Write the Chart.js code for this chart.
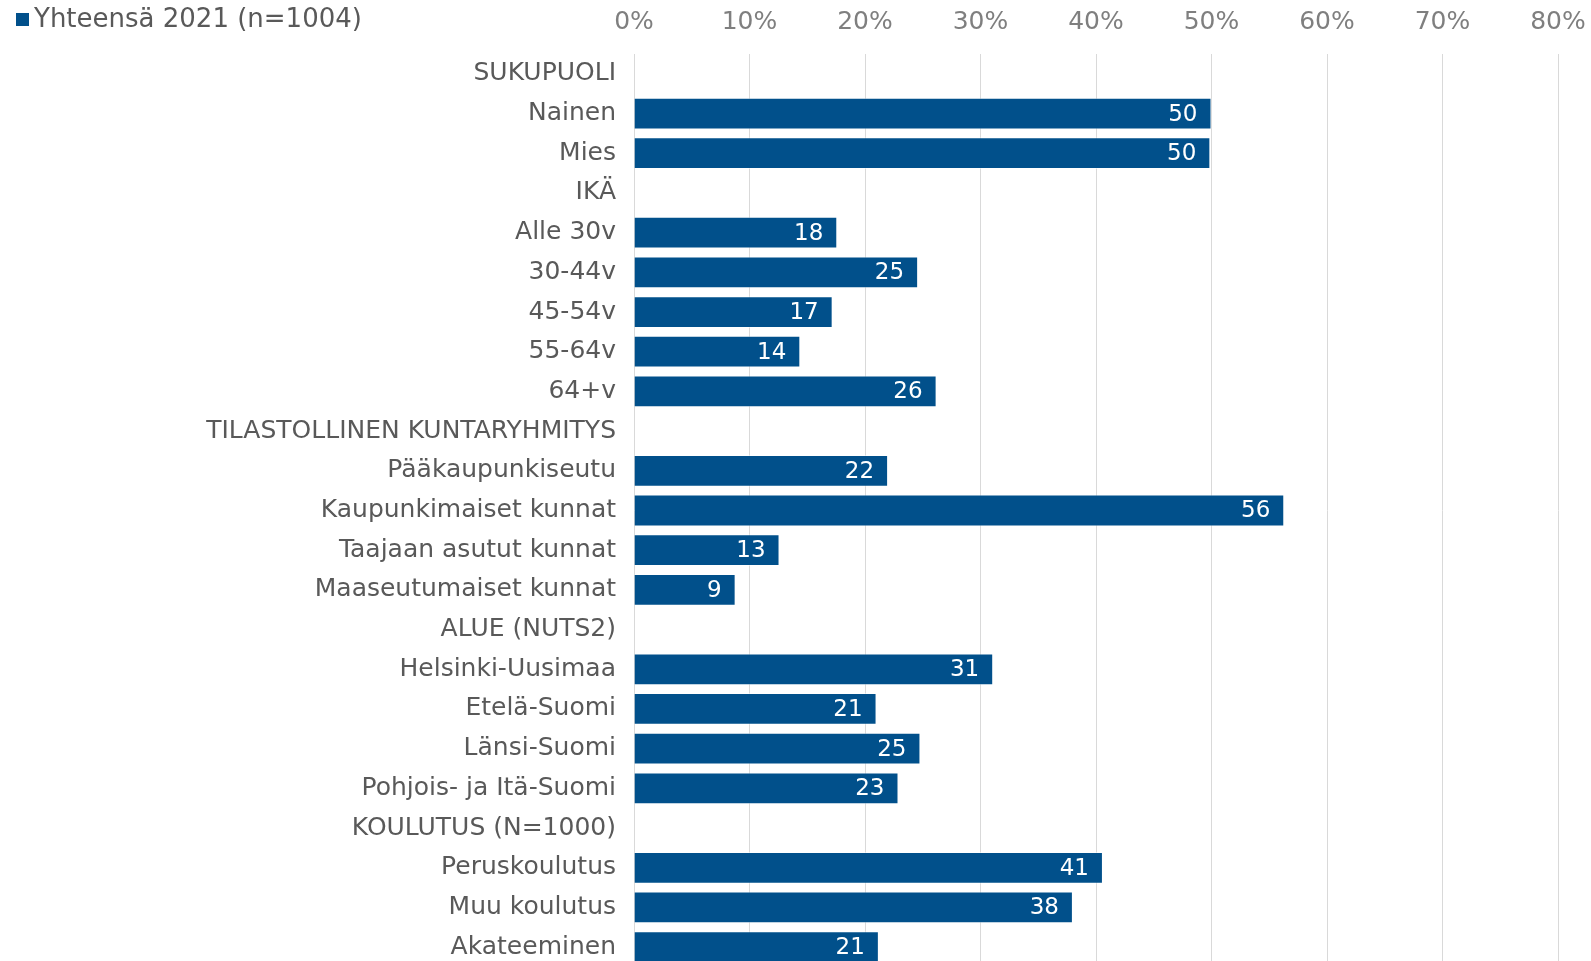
<!DOCTYPE html>
<html>
<head>
<meta charset="utf-8">
<script src="https://cdn.jsdelivr.net/npm/chart.js@4.4.0/dist/chart.umd.min.js"></script>
<style>
    html, body { margin: 0; padding: 0; overflow: hidden; background: #ffffff; }
    canvas { display: block; }
</style>
</head>
<body>
<canvas id="groupChart" width="1591" height="975"></canvas>
<script>
// Group rows (header rows have no value)
const categories = [
    'SUKUPUOLI', 'Nainen', 'Mies',
    'IKÄ', 'Alle 30v', '30-44v', '45-54v', '55-64v', '64+v',
    'TILASTOLLINEN KUNTARYHMITYS', 'Pääkaupunkiseutu', 'Kaupunkimaiset kunnat',
    'Taajaan asutut kunnat', 'Maaseutumaiset kunnat',
    'ALUE (NUTS2)', 'Helsinki-Uusimaa', 'Etelä-Suomi', 'Länsi-Suomi', 'Pohjois- ja Itä-Suomi',
    'KOULUTUS (N=1000)', 'Peruskoulutus', 'Muu koulutus', 'Akateeminen'
];

const values2021 = [
    null, 50.0, 49.9,
    null, 17.6, 24.6, 17.2, 14.4, 26.2,
    null, 22.0, 56.3, 12.6, 8.8,
    null, 31.1, 21.0, 24.8, 22.9,
    null, 40.6, 38.0, 21.2
];

const seriesLabel = 'Yhteensä 2021 (n=1004)';
const xTicks = [0, 10, 20, 30, 40, 50, 60, 70, 80];

const barColor = '#01508b';
const textColor = '#595959';

// Values written inside the bar end
const valueLabels = {
    id: 'valueLabels',
    afterDatasetsDraw(chart) {
        const ctx = chart.ctx;
        const meta = chart.getDatasetMeta(0);
        ctx.save();
        ctx.font = '23px "DejaVu Sans"';
        ctx.fillStyle = '#ffffff';
        ctx.textAlign = 'right';
        ctx.textBaseline = 'middle';
        meta.data.forEach((bar, i) => {
            const v = values2021[i];
            if (v === null) return;
            ctx.fillText(String(Math.round(v)), bar.x - 14, bar.y + 1);
        });
        ctx.restore();
    }
};

// Legend drawn in the same band as the top axis labels
const topLegend = {
    id: 'topLegend',
    afterDraw(chart) {
        const ctx = chart.ctx;
        const ds = chart.data.datasets[0];
        ctx.save();
        ctx.fillStyle = ds.backgroundColor;
        ctx.fillRect(16, 13, 13, 13);
        ctx.font = '26px "DejaVu Sans"';
        ctx.fillStyle = textColor;
        ctx.textAlign = 'left';
        ctx.textBaseline = 'middle';
        ctx.fillText(ds.label, 34, 20);
        ctx.restore();
    }
};

const ctx = document.getElementById('groupChart').getContext('2d');

const chart = new Chart(ctx, {
    type: 'bar',
    data: {
        labels: categories,
        datasets: [{
            label: seriesLabel,
            data: values2021,
            backgroundColor: barColor,
            borderColor: 'rgba(255, 255, 255, 0.5)',
            borderWidth: 1,
            categoryPercentage: 1.0,
            barPercentage: 0.8
        }]
    },
    options: {
        indexAxis: 'y',
        responsive: false,
        animation: false,
        layout: {
            padding: { top: 0, right: 33, bottom: 8, left: 0 }
        },
        plugins: {
            legend: { display: false },
            tooltip: { enabled: false }
        },
        scales: {
            x: {
                position: 'top',
                min: 0,
                max: 80,
                afterBuildTicks(scale) {
                    scale.ticks = xTicks.map(v => ({ value: v }));
                },
                afterFit(scale) {
                    scale.height = 54;
                    scale.paddingLeft = 0;
                    scale.paddingRight = 0;
                },
                ticks: {
                    padding: 17,
                    color: '#7f7f7f',
                    font: { family: 'DejaVu Sans', size: 25 },
                    maxRotation: 0,
                    callback: v => v + '%'
                },
                grid: {
                    color: '#d9d9d9',
                    lineWidth: 1,
                    drawTicks: false
                },
                border: { display: false }
            },
            y: {
                afterFit(scale) {
                    scale.width = 634;
                    scale.paddingTop = 0;
                    scale.paddingBottom = 0;
                },
                ticks: {
                    padding: 18,
                    color: textColor,
                    font: { family: 'DejaVu Sans', size: 25 },
                    autoSkip: false
                },
                grid: { display: false, drawTicks: false },
                border: { display: false }
            }
        }
    },
    plugins: [valueLabels, topLegend]
});
</script>
</body>
</html>
